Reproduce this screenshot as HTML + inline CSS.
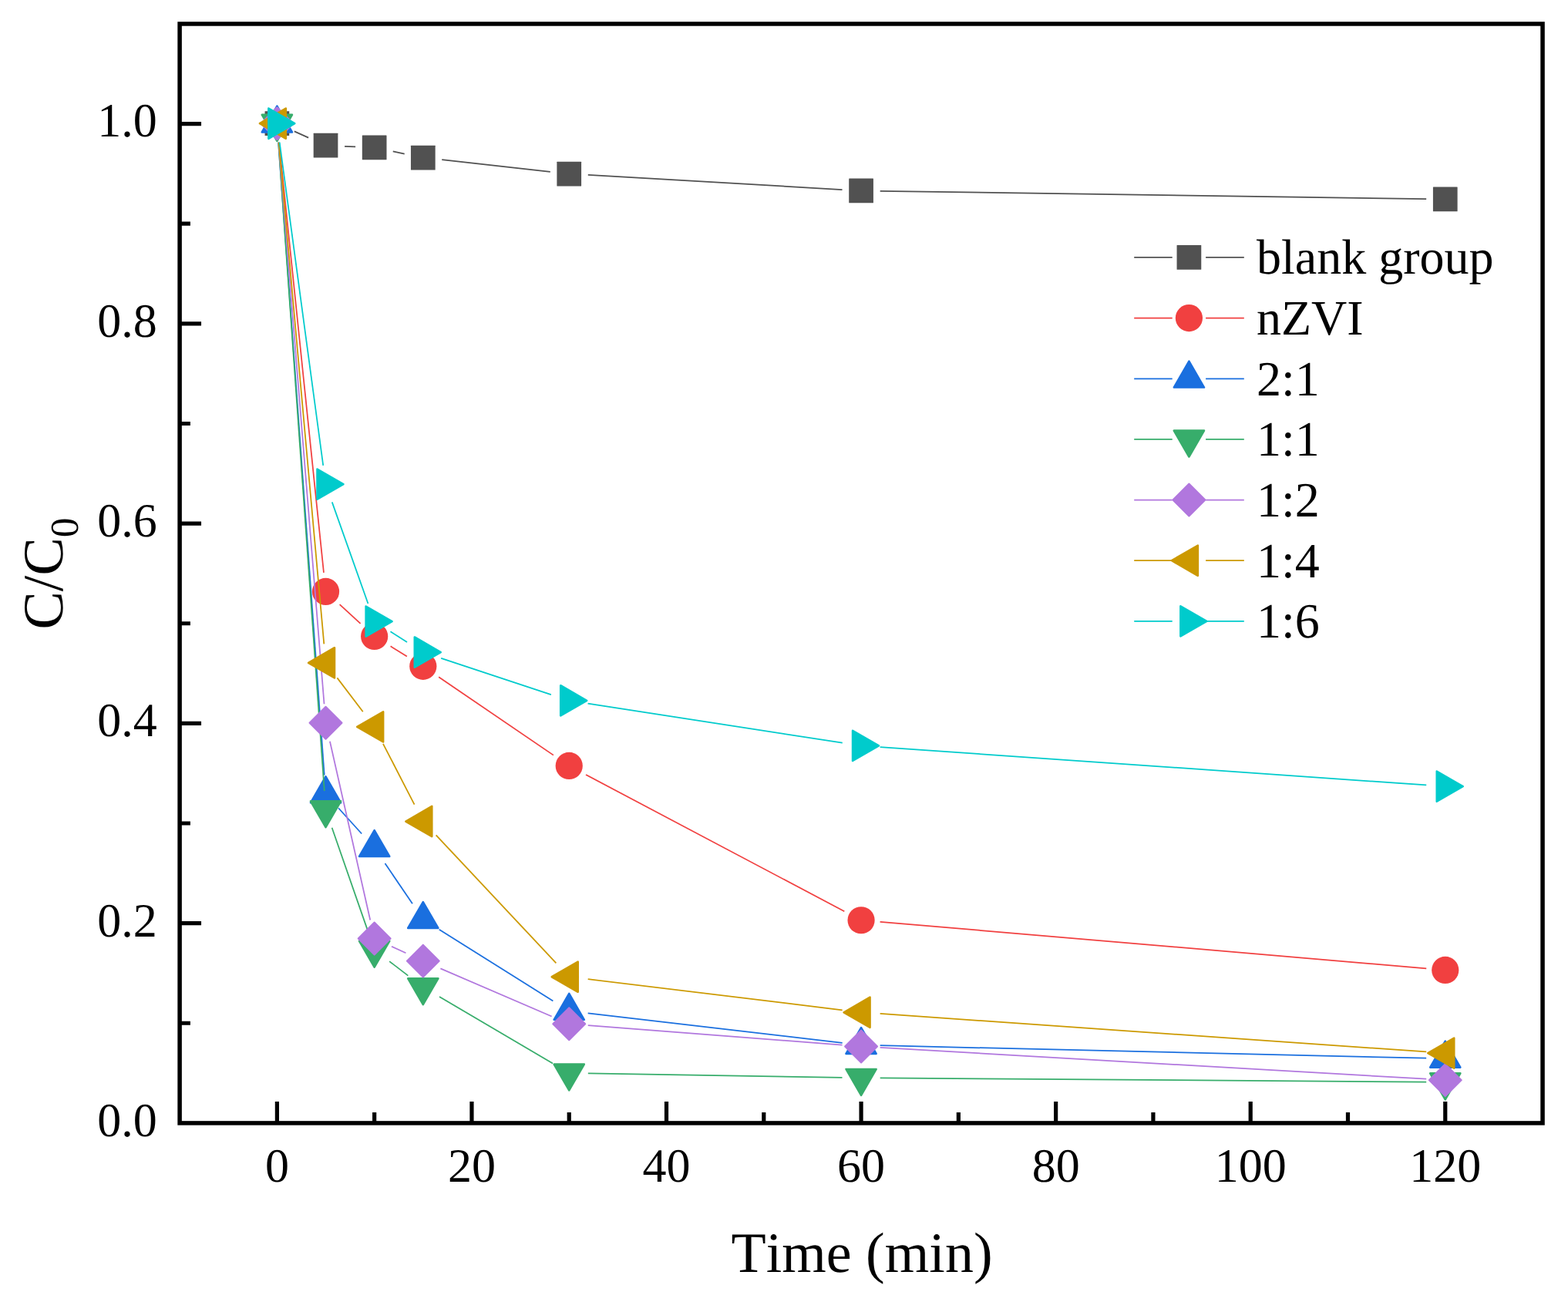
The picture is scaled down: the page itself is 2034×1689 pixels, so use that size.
<!DOCTYPE html>
<html lang="en">
<head>
<meta charset="utf-8">
<title>C/C0 versus Time (min)</title>
<style>
html,body{margin:0;padding:0;background:#fff;}
body{width:2034px;height:1689px;overflow:hidden;}
svg{display:block;}
text{font-family:"Liberation Serif","Times New Roman",Times,serif;fill:#000;font-kerning:none;font-variant-ligatures:none;text-rendering:geometricPrecision;}
.tk{font-size:62px;}
.lg{font-size:64px;}
.ti{font-size:74px;}
.sb{font-size:51.6px;}
</style>
</head>
<body>
<svg width="2034" height="1689" viewBox="0 0 2034 1689">
<rect x="0" y="0" width="2034" height="1689" fill="#fff"/>
<g id="series">
<g>
<line x1="381.8" y1="170.34" x2="400.1" y2="178.59" stroke="#515151" stroke-width="1.75"/>
<line x1="447.1" y1="189.77" x2="461.09" y2="190.37" stroke="#515151" stroke-width="1.75"/>
<line x1="509.75" y1="196.43" x2="524.72" y2="199.53" stroke="#515151" stroke-width="1.75"/>
<line x1="573.26" y1="207.24" x2="713.78" y2="222.82" stroke="#515151" stroke-width="1.75"/>
<line x1="762.79" y1="226.95" x2="1092.52" y2="246.01" stroke="#515151" stroke-width="1.75"/>
<line x1="1141.67" y1="247.79" x2="1850.17" y2="258.1" stroke="#515151" stroke-width="1.75"/>
<rect x="343.53" y="144.37" width="31.7" height="31.7" rx="0.5" fill="#515151"/>
<rect x="406.67" y="172.86" width="31.7" height="31.7" rx="0.5" fill="#515151"/>
<rect x="469.81" y="175.58" width="31.7" height="31.7" rx="0.5" fill="#515151"/>
<rect x="532.96" y="188.68" width="31.7" height="31.7" rx="0.5" fill="#515151"/>
<rect x="722.38" y="209.68" width="31.7" height="31.7" rx="0.5" fill="#515151"/>
<rect x="1101.23" y="231.59" width="31.7" height="31.7" rx="0.5" fill="#515151"/>
<rect x="1858.92" y="242.6" width="31.7" height="31.7" rx="0.5" fill="#515151"/>
</g>
<g>
<line x1="361.93" y1="184.69" x2="419.98" y2="742.92" stroke="#F14040" stroke-width="1.75"/>
<line x1="440.63" y1="784.04" x2="467.56" y2="808.81" stroke="#F14040" stroke-width="1.75"/>
<line x1="506.61" y1="838.36" x2="527.86" y2="851.45" stroke="#F14040" stroke-width="1.75"/>
<line x1="569.13" y1="878.21" x2="717.9" y2="979.61" stroke="#F14040" stroke-width="1.75"/>
<line x1="759.98" y1="1004.96" x2="1095.33" y2="1182.25" stroke="#F14040" stroke-width="1.75"/>
<line x1="1141.59" y1="1195.84" x2="1850.26" y2="1256.34" stroke="#F14040" stroke-width="1.75"/>
<circle cx="359.38" cy="160.22" r="17.6" fill="#F14040"/>
<circle cx="422.52" cy="767.39" r="17.6" fill="#F14040"/>
<circle cx="485.66" cy="825.46" r="17.6" fill="#F14040"/>
<circle cx="548.81" cy="864.35" r="17.6" fill="#F14040"/>
<circle cx="738.23" cy="993.47" r="17.6" fill="#F14040"/>
<circle cx="1117.08" cy="1193.75" r="17.6" fill="#F14040"/>
<circle cx="1874.77" cy="1258.43" r="17.6" fill="#F14040"/>
</g>
<g>
<line x1="361.16" y1="184.75" x2="420.74" y2="1005.46" stroke="#1A6FDF" stroke-width="1.75"/>
<line x1="439.04" y1="1048.23" x2="469.15" y2="1081.47" stroke="#1A6FDF" stroke-width="1.75"/>
<line x1="499.48" y1="1120.05" x2="534.99" y2="1172.35" stroke="#1A6FDF" stroke-width="1.75"/>
<line x1="569.65" y1="1205.77" x2="717.39" y2="1298.42" stroke="#1A6FDF" stroke-width="1.75"/>
<line x1="762.66" y1="1314.34" x2="1092.64" y2="1352.81" stroke="#1A6FDF" stroke-width="1.75"/>
<line x1="1141.67" y1="1356.23" x2="1850.17" y2="1372.72" stroke="#1A6FDF" stroke-width="1.75"/>
<polygon points="359.38,137.62 378.95,171.52 339.81,171.52" fill="#1A6FDF" stroke="#1A6FDF" stroke-width="2.6" stroke-linejoin="round"/>
<polygon points="422.52,1007.4 442.1,1041.3 402.95,1041.3" fill="#1A6FDF" stroke="#1A6FDF" stroke-width="2.6" stroke-linejoin="round"/>
<polygon points="485.66,1077.1 505.24,1111 466.09,1111" fill="#1A6FDF" stroke="#1A6FDF" stroke-width="2.6" stroke-linejoin="round"/>
<polygon points="548.81,1170.1 568.38,1204 529.23,1204" fill="#1A6FDF" stroke="#1A6FDF" stroke-width="2.6" stroke-linejoin="round"/>
<polygon points="738.23,1288.89 757.8,1322.79 718.66,1322.79" fill="#1A6FDF" stroke="#1A6FDF" stroke-width="2.6" stroke-linejoin="round"/>
<polygon points="1117.08,1333.06 1136.65,1366.96 1097.5,1366.96" fill="#1A6FDF" stroke="#1A6FDF" stroke-width="2.6" stroke-linejoin="round"/>
<polygon points="1874.77,1350.69 1894.34,1384.59 1855.2,1384.59" fill="#1A6FDF" stroke="#1A6FDF" stroke-width="2.6" stroke-linejoin="round"/>
</g>
<g>
<line x1="361.12" y1="184.76" x2="420.78" y2="1026.06" stroke="#37AD6B" stroke-width="1.75"/>
<line x1="430.61" y1="1073.83" x2="477.58" y2="1208.86" stroke="#37AD6B" stroke-width="1.75"/>
<line x1="505.17" y1="1247.08" x2="529.3" y2="1265.61" stroke="#37AD6B" stroke-width="1.75"/>
<line x1="570.02" y1="1293.06" x2="717.02" y2="1379.39" stroke="#37AD6B" stroke-width="1.75"/>
<line x1="762.83" y1="1392.27" x2="1092.48" y2="1397.83" stroke="#37AD6B" stroke-width="1.75"/>
<line x1="1141.67" y1="1398.42" x2="1850.17" y2="1403.52" stroke="#37AD6B" stroke-width="1.75"/>
<polygon points="359.38,182.82 339.81,148.92 378.95,148.92" fill="#37AD6B" stroke="#37AD6B" stroke-width="2.6" stroke-linejoin="round"/>
<polygon points="422.52,1073.19 402.95,1039.29 442.1,1039.29" fill="#37AD6B" stroke="#37AD6B" stroke-width="2.6" stroke-linejoin="round"/>
<polygon points="485.66,1254.69 466.09,1220.79 505.24,1220.79" fill="#37AD6B" stroke="#37AD6B" stroke-width="2.6" stroke-linejoin="round"/>
<polygon points="548.81,1303.2 529.23,1269.3 568.38,1269.3" fill="#37AD6B" stroke="#37AD6B" stroke-width="2.6" stroke-linejoin="round"/>
<polygon points="738.23,1414.45 718.66,1380.55 757.8,1380.55" fill="#37AD6B" stroke="#37AD6B" stroke-width="2.6" stroke-linejoin="round"/>
<polygon points="1117.08,1420.84 1097.5,1386.94 1136.65,1386.94" fill="#37AD6B" stroke="#37AD6B" stroke-width="2.6" stroke-linejoin="round"/>
<polygon points="1874.77,1426.3 1855.2,1392.4 1894.34,1392.4" fill="#37AD6B" stroke="#37AD6B" stroke-width="2.6" stroke-linejoin="round"/>
</g>
<g>
<line x1="361.37" y1="184.74" x2="420.53" y2="913.21" stroke="#B177DE" stroke-width="1.75"/>
<line x1="427.94" y1="961.72" x2="480.25" y2="1193.47" stroke="#B177DE" stroke-width="1.75"/>
<line x1="508" y1="1227.79" x2="526.47" y2="1236.32" stroke="#B177DE" stroke-width="1.75"/>
<line x1="571.4" y1="1256.38" x2="715.64" y2="1318.57" stroke="#B177DE" stroke-width="1.75"/>
<line x1="762.76" y1="1330.19" x2="1092.55" y2="1355.58" stroke="#B177DE" stroke-width="1.75"/>
<line x1="1141.63" y1="1358.89" x2="1850.21" y2="1399.74" stroke="#B177DE" stroke-width="1.75"/>
<polygon points="359.38,139.22 380.38,160.22 359.38,181.22 338.38,160.22" fill="#B177DE" stroke="#B177DE" stroke-width="2" stroke-linejoin="round"/>
<polygon points="422.52,916.72 443.52,937.72 422.52,958.72 401.52,937.72" fill="#B177DE" stroke="#B177DE" stroke-width="2" stroke-linejoin="round"/>
<polygon points="485.66,1196.47 506.66,1217.47 485.66,1238.47 464.66,1217.47" fill="#B177DE" stroke="#B177DE" stroke-width="2" stroke-linejoin="round"/>
<polygon points="548.81,1225.64 569.81,1246.64 548.81,1267.64 527.81,1246.64" fill="#B177DE" stroke="#B177DE" stroke-width="2" stroke-linejoin="round"/>
<polygon points="738.23,1307.31 759.23,1328.31 738.23,1349.31 717.23,1328.31" fill="#B177DE" stroke="#B177DE" stroke-width="2" stroke-linejoin="round"/>
<polygon points="1117.08,1336.47 1138.08,1357.47 1117.08,1378.47 1096.08,1357.47" fill="#B177DE" stroke="#B177DE" stroke-width="2" stroke-linejoin="round"/>
<polygon points="1874.77,1380.16 1895.77,1401.16 1874.77,1422.16 1853.77,1401.16" fill="#B177DE" stroke="#B177DE" stroke-width="2" stroke-linejoin="round"/>
</g>
<g>
<line x1="361.59" y1="184.72" x2="420.31" y2="835.32" stroke="#CC9900" stroke-width="1.75"/>
<line x1="437.41" y1="879.4" x2="470.78" y2="923.32" stroke="#CC9900" stroke-width="1.75"/>
<line x1="496.93" y1="964.78" x2="537.54" y2="1043.67" stroke="#CC9900" stroke-width="1.75"/>
<line x1="565.65" y1="1083.47" x2="721.39" y2="1249.32" stroke="#CC9900" stroke-width="1.75"/>
<line x1="762.65" y1="1270.22" x2="1092.65" y2="1310.3" stroke="#CC9900" stroke-width="1.75"/>
<line x1="1141.62" y1="1314.98" x2="1850.23" y2="1364.44" stroke="#CC9900" stroke-width="1.75"/>
<polygon points="336.93,160.22 370.83,140.65 370.83,179.79" fill="#CC9900" stroke="#CC9900" stroke-width="2.6" stroke-linejoin="round"/>
<polygon points="400.07,859.82 433.97,840.24 433.97,879.39" fill="#CC9900" stroke="#CC9900" stroke-width="2.6" stroke-linejoin="round"/>
<polygon points="463.21,942.91 497.11,923.34 497.11,962.48" fill="#CC9900" stroke="#CC9900" stroke-width="2.6" stroke-linejoin="round"/>
<polygon points="526.36,1065.54 560.26,1045.97 560.26,1085.11" fill="#CC9900" stroke="#CC9900" stroke-width="2.6" stroke-linejoin="round"/>
<polygon points="715.78,1267.25 749.68,1247.68 749.68,1286.82" fill="#CC9900" stroke="#CC9900" stroke-width="2.6" stroke-linejoin="round"/>
<polygon points="1094.63,1313.27 1128.53,1293.7 1128.53,1332.84" fill="#CC9900" stroke="#CC9900" stroke-width="2.6" stroke-linejoin="round"/>
<polygon points="1852.32,1366.16 1886.22,1346.59 1886.22,1385.73" fill="#CC9900" stroke="#CC9900" stroke-width="2.6" stroke-linejoin="round"/>
</g>
<g>
<line x1="362.67" y1="184.6" x2="419.23" y2="603.78" stroke="#00CBCC" stroke-width="1.75"/>
<line x1="430.75" y1="651.35" x2="477.44" y2="782.96" stroke="#00CBCC" stroke-width="1.75"/>
<line x1="506.46" y1="819.3" x2="528.01" y2="832.93" stroke="#00CBCC" stroke-width="1.75"/>
<line x1="572.16" y1="853.81" x2="714.88" y2="901.08" stroke="#00CBCC" stroke-width="1.75"/>
<line x1="762.54" y1="912.58" x2="1092.76" y2="963.65" stroke="#00CBCC" stroke-width="1.75"/>
<line x1="1141.62" y1="969.12" x2="1850.23" y2="1018.46" stroke="#00CBCC" stroke-width="1.75"/>
<polygon points="382.28,160.22 348.38,179.79 348.38,140.65" fill="#00CBCC" stroke="#00CBCC" stroke-width="2.6" stroke-linejoin="round"/>
<polygon points="445.42,628.16 411.52,647.74 411.52,608.59" fill="#00CBCC" stroke="#00CBCC" stroke-width="2.6" stroke-linejoin="round"/>
<polygon points="508.56,806.15 474.66,825.72 474.66,786.58" fill="#00CBCC" stroke="#00CBCC" stroke-width="2.6" stroke-linejoin="round"/>
<polygon points="571.71,846.07 537.81,865.65 537.81,826.5" fill="#00CBCC" stroke="#00CBCC" stroke-width="2.6" stroke-linejoin="round"/>
<polygon points="761.13,908.82 727.23,928.39 727.23,889.24" fill="#00CBCC" stroke="#00CBCC" stroke-width="2.6" stroke-linejoin="round"/>
<polygon points="1139.97,967.41 1106.08,986.98 1106.08,947.84" fill="#00CBCC" stroke="#00CBCC" stroke-width="2.6" stroke-linejoin="round"/>
<polygon points="1897.67,1020.17 1863.77,1039.74 1863.77,1000.6" fill="#00CBCC" stroke="#00CBCC" stroke-width="2.6" stroke-linejoin="round"/>
</g>
</g>
<g id="axes" stroke="#000" fill="none">
<rect x="233.1" y="30.95" width="1767.95" height="1425.95" stroke-width="5.5"/>
<path d="M233.1 1327.27h13.8M233.1 1197.64h27.95M233.1 1068h13.8M233.1 938.37h27.95M233.1 808.74h13.8M233.1 679.11h27.95M233.1 549.48h13.8M233.1 419.85h27.95M233.1 290.21h13.8M233.1 160.58h27.95M359.38 1456.9v-27.95M485.66 1456.9v-13.8M611.95 1456.9v-27.95M738.23 1456.9v-13.8M864.51 1456.9v-27.95M990.79 1456.9v-13.8M1117.08 1456.9v-27.95M1243.36 1456.9v-13.8M1369.64 1456.9v-27.95M1495.92 1456.9v-13.8M1622.2 1456.9v-27.95M1748.49 1456.9v-13.8M1874.77 1456.9v-27.95" stroke-width="5.2"/>
</g>
<g id="ylabels" class="tk" text-anchor="end">
<text x="203.7" y="1473.8">0.0</text>
<text x="203.7" y="1214.54">0.2</text>
<text x="203.7" y="955.27">0.4</text>
<text x="203.7" y="696.01">0.6</text>
<text x="203.7" y="436.75">0.8</text>
<text x="203.7" y="177.48">1.0</text>
</g>
<g id="xlabels" class="tk" text-anchor="middle">
<text x="359.38" y="1533">0</text>
<text x="611.95" y="1533">20</text>
<text x="864.51" y="1533">40</text>
<text x="1117.08" y="1533">60</text>
<text x="1369.64" y="1533">80</text>
<text x="1622.2" y="1533">100</text>
<text x="1874.77" y="1533">120</text>
</g>
<text class="ti" text-anchor="middle" x="1118" y="1650">Time (min)</text>
<text class="ti" transform="translate(81.3 816.5) rotate(-90)">C/C<tspan class="sb" dy="19.7">0</tspan></text>
<g id="legend">
<path d="M1471.2 333.95H1520.7M1564.1 333.95H1613.8" stroke="#515151" stroke-width="1.75" fill="none"/>
<rect x="1526.55" y="318.1" width="31.7" height="31.7" rx="0.5" fill="#515151"/>
<text class="lg" x="1630" y="355.45">blank group</text>
<path d="M1471.2 412.6H1520.7M1564.1 412.6H1613.8" stroke="#F14040" stroke-width="1.75" fill="none"/>
<circle cx="1542.4" cy="412.6" r="17.6" fill="#F14040"/>
<text class="lg" x="1630" y="434.1">nZVI</text>
<path d="M1471.2 491.25H1520.7M1564.1 491.25H1613.8" stroke="#1A6FDF" stroke-width="1.75" fill="none"/>
<polygon points="1542.4,468.65 1561.97,502.55 1522.83,502.55" fill="#1A6FDF" stroke="#1A6FDF" stroke-width="2.6" stroke-linejoin="round"/>
<text class="lg" x="1630" y="512.75">2:1</text>
<path d="M1471.2 569.9H1520.7M1564.1 569.9H1613.8" stroke="#37AD6B" stroke-width="1.75" fill="none"/>
<polygon points="1542.4,592.5 1522.83,558.6 1561.97,558.6" fill="#37AD6B" stroke="#37AD6B" stroke-width="2.6" stroke-linejoin="round"/>
<text class="lg" x="1630" y="591.4">1:1</text>
<path d="M1471.2 648.55H1520.7M1564.1 648.55H1613.8" stroke="#B177DE" stroke-width="1.75" fill="none"/>
<polygon points="1542.4,627.55 1563.4,648.55 1542.4,669.55 1521.4,648.55" fill="#B177DE" stroke="#B177DE" stroke-width="2" stroke-linejoin="round"/>
<text class="lg" x="1630" y="670.05">1:2</text>
<path d="M1471.2 727.2H1520.7M1564.1 727.2H1613.8" stroke="#CC9900" stroke-width="1.75" fill="none"/>
<polygon points="1519.95,727.2 1553.85,707.63 1553.85,746.77" fill="#CC9900" stroke="#CC9900" stroke-width="2.6" stroke-linejoin="round"/>
<text class="lg" x="1630" y="748.7">1:4</text>
<path d="M1471.2 805.85H1520.7M1564.1 805.85H1613.8" stroke="#00CBCC" stroke-width="1.75" fill="none"/>
<polygon points="1565.3,805.85 1531.4,825.42 1531.4,786.28" fill="#00CBCC" stroke="#00CBCC" stroke-width="2.6" stroke-linejoin="round"/>
<text class="lg" x="1630" y="827.35">1:6</text>
</g>
</svg>
</body>
</html>
